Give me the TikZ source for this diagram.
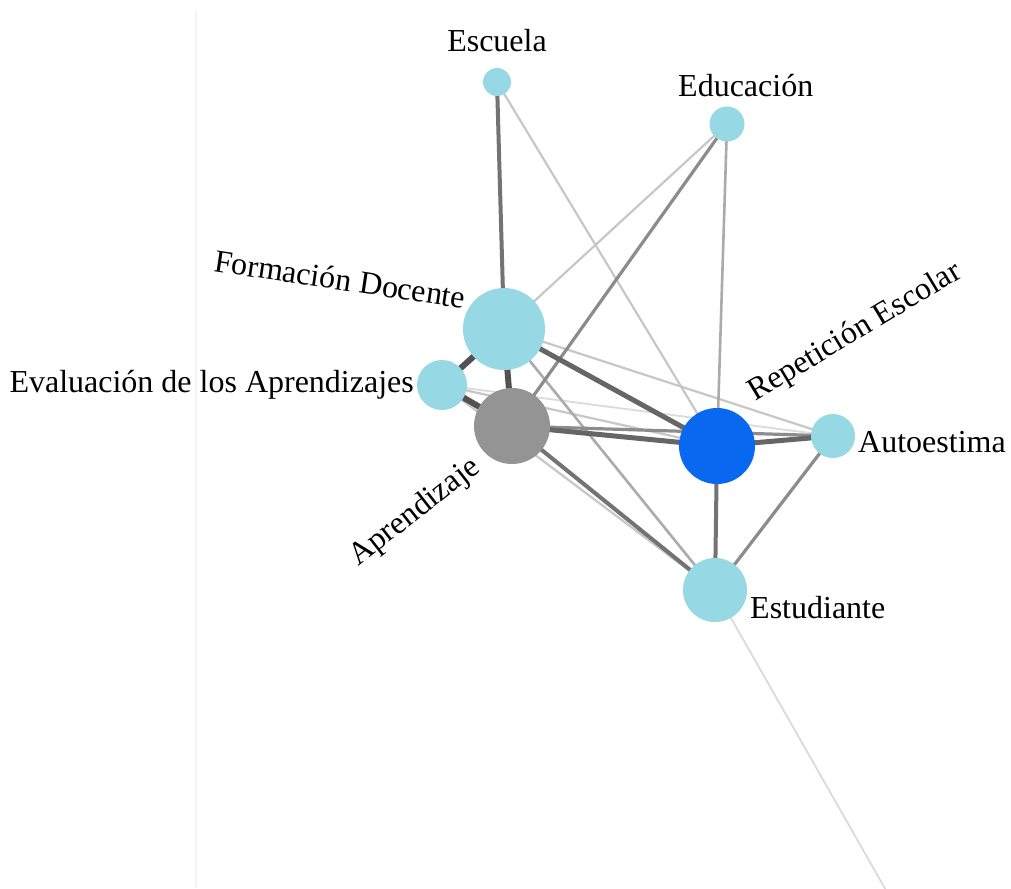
\documentclass[tikz,border=0pt]{standalone}
\usepackage{fontspec}
\setmainfont{Liberation Serif}
\pgfdeclarelayer{bg}
\pgfsetlayers{bg,main}
\definecolor{nodeblue}{HTML}{96D8E4}
\definecolor{repblue}{HTML}{0868F0}
\definecolor{aprgray}{HTML}{949494}
\begin{document}
\begin{tikzpicture}[x=1pt,y=-1pt,
  vert/.style={circle, inner sep=0pt, minimum size=#1, draw=none},
  lb/.style={vert=#1, fill=nodeblue},
  lab/.style={font=\fontsize{32}{38}\selectfont, inner sep=0pt, text=black},
  e1/.style={draw=black!68, line width=6pt},
  e2/.style={draw=black!60, line width=5pt},
  e3/.style={draw=black!55, line width=4pt},
  e4/.style={draw=black!45, line width=3.2pt},
  e5/.style={draw=black!33, line width=2.6pt},
  e6/.style={draw=black!22, line width=2.2pt},
  e7/.style={draw=black!14, line width=1.8pt}
]
\useasboundingbox (0,0) rectangle (1011,888);
\coordinate (vtop) at (196,10);
\coordinate (vbot) at (196,888);

% nodes
\node[lb=28pt] (esc) at (497,82) {};
\node[lb=35pt] (edu) at (727,124) {};
\node[lb=82pt] (fd) at (504,329) {};
\node[lb=50pt] (ev) at (442,385) {};
\node[vert=76pt, fill=aprgray] (ap) at (512,426) {};
\node[vert=76pt, fill=repblue] (re) at (717,446) {};
\node[lb=44pt] (au) at (833,436) {};
\node[lb=64pt] (es) at (715,590) {};
\coordinate (tail) at (887,892);

% labels
\node[lab, anchor=base] (lesc) at (497,52) {Escuela};
\node[lab, anchor=base west] (ledu) at (678,97) {Educación};
\node[lab, anchor=base west, rotate=-8.5] (lfd) at (213,271) {Formación Docente};
\node[lab, anchor=base east] (lev) at (414,392) {Evaluación de los Aprendizajes};
\node[lab, anchor=base west, rotate=31] (lre) at (755,402) {Repetición Escolar};
\node[lab, anchor=base west, rotate=38] (lap) at (358,567) {Aprendizaje};
\node[lab, anchor=base west] (lau) at (858,452) {Autoestima};
\node[lab, anchor=base west] (les) at (750,618) {Estudiante};

% edges
\begin{pgfonlayer}{bg}
\fill[white] (0,0) rectangle (1011,888);
\draw[black!4, line width=1.2pt] (vtop) -- (vbot);
\path[e7] (es.center) -- (tail);
\path[e7] (ev.center) -- (au.center);
\path[e6] (fd.center) -- (au.center);
\path[e6] (ev.center) -- (re.center);
\path[e6] (ev.center) -- (es.center);
\path[e6] (esc.center) -- (re.center);
\path[e6] (edu.center) -- (fd.center);
\path[e5] (edu.center) -- (re.center);
\path[e5] (fd.center) -- (es.center);
\path[e4] (edu.center) -- (ap.center);
\path[e4] (ap.center) -- (au.center);
\path[e4] (au.center) -- (es.center);
\path[e3] (ap.center) -- (es.center);
\path[e3] (esc.center) -- (fd.center);
\path[e3] (re.center) -- (es.center);
\path[e2] (fd.center) -- (re.center);
\path[e2] (ap.center) -- (re.center);
\path[e2] (re.center) -- (au.center);
\path[e1] (fd.center) -- (ev.center);
\path[e1] (fd.center) -- (ap.center);
\path[e1] (ev.center) -- (ap.center);
\end{pgfonlayer}
\end{tikzpicture}
\end{document}
